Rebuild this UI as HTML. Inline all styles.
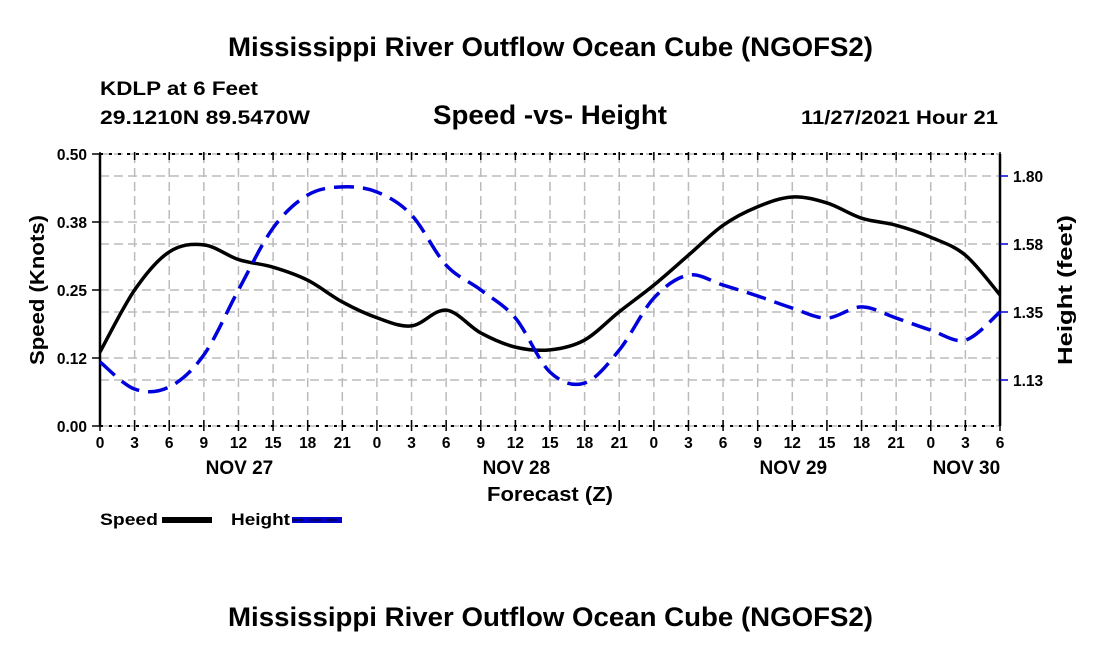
<!DOCTYPE html>
<html><head><meta charset="utf-8"><style>
body{margin:0;background:#fff;}
svg text{font-family:"Liberation Sans",sans-serif;font-weight:bold;fill:#000;}
</style></head><body>
<svg id="c" width="1100" height="650" xmlns="http://www.w3.org/2000/svg">
<text x="228" y="56" font-size="27" textLength="645" lengthAdjust="spacingAndGlyphs">Mississippi River Outflow Ocean Cube (NGOFS2)</text>
<text x="100" y="95" font-size="19" textLength="158" lengthAdjust="spacingAndGlyphs">KDLP at 6 Feet</text>
<text x="100" y="124" font-size="19" textLength="210" lengthAdjust="spacingAndGlyphs">29.1210N  89.5470W</text>
<text x="433" y="124" font-size="27" textLength="234" lengthAdjust="spacingAndGlyphs">Speed -vs- Height</text>
<text x="801" y="124" font-size="19" textLength="197" lengthAdjust="spacingAndGlyphs">11/27/2021 Hour 21</text>
<g id="grid"></g>
<g id="axes"></g>
<g id="series"></g>
<text x="487" y="501" font-size="20" textLength="126" lengthAdjust="spacingAndGlyphs">Forecast (Z)</text>
<text transform="translate(44,290) rotate(-90)" font-size="20" text-anchor="middle" textLength="150" lengthAdjust="spacingAndGlyphs">Speed (Knots)</text>
<text transform="translate(1072,290) rotate(-90)" font-size="20" text-anchor="middle" textLength="150" lengthAdjust="spacingAndGlyphs">Height (feet)</text>
<g><text x="100" y="525" font-size="17" textLength="58" lengthAdjust="spacingAndGlyphs">Speed</text><line x1="162" y1="520" x2="212" y2="520" stroke="#000" stroke-width="6"/></g>
<g><text x="231" y="525" font-size="17" textLength="59" lengthAdjust="spacingAndGlyphs">Height</text><line x1="292" y1="520" x2="342" y2="520" stroke="#0000cc" stroke-width="6"/><line x1="292" y1="520" x2="342" y2="520" stroke="#000" stroke-width="1" stroke-dasharray="12,5"/></g>
<text x="228" y="626" font-size="27" textLength="645" lengthAdjust="spacingAndGlyphs">Mississippi River Outflow Ocean Cube (NGOFS2)</text>
</svg>
<script>
const hours=[0,3,6,9,12,15,18,21,24,27,30,33,36,39,42,45,48,51,54,57,60,63,66,69,72,75,78];
const speed=[0.136,0.25,0.32,0.333,0.306,0.292,0.268,0.228,0.199,0.184,0.213,0.171,0.145,0.14,0.158,0.21,0.259,0.314,0.369,0.403,0.421,0.41,0.382,0.369,0.347,0.314,0.241];
const height=[1.19,1.10,1.107,1.213,1.428,1.633,1.742,1.769,1.752,1.676,1.51,1.428,1.335,1.156,1.12,1.229,1.401,1.477,1.444,1.408,1.368,1.335,1.372,1.335,1.295,1.262,1.355];
const leftTicks=[0,0.125,0.25,0.375,0.5];
const leftLabels=["0.00","0.12","0.25","0.38","0.50"];
const rightTicks=[1.13,1.355,1.58,1.805];
const rightLabels=["1.13","1.35","1.58","1.80"];
const xLabels=["0","3","6","9","12","15","18","21","0","3","6","9","12","15","18","21","0","3","6","9","12","15","18","21","0","3","6"];
const dayLabels=[["NOV 27",12],["NOV 28",36],["NOV 29",60],["NOV 30",75]];
const X0=100,X1=1000,Y0=154,Y1=426;
const xs=h=>X0+(h/78)*(X1-X0);
const yl=v=>Y1-(v/0.5)*(Y1-Y0);
const yr=v=>380-(v-1.13)/0.225*68;
const NS="http://www.w3.org/2000/svg";
function mk(p,t,a){const e=document.createElementNS(NS,t);for(const k in a)e.setAttribute(k,a[k]);document.getElementById(p).appendChild(e);return e;}
const g='#bbb';
hours.forEach(h=>{const l=mk('grid','line',{x1:xs(h),x2:xs(h),y1:Y0,y2:Y1,stroke:g,'stroke-width':1.5,'stroke-dasharray':'9,5'});

});
leftTicks.forEach(v=>{const l=mk('grid','line',{x1:X0,x2:X1,y1:yl(v),y2:yl(v),stroke:g,'stroke-width':1.5,'stroke-dasharray':'9,5'});

});
rightTicks.forEach(v=>{const l=mk('grid','line',{x1:X0,x2:X1,y1:yr(v),y2:yr(v),stroke:g,'stroke-width':1.5,'stroke-dasharray':'9,5'});

});
mk('axes','line',{x1:X0,x2:X0,y1:Y0,y2:Y1,stroke:'#000','stroke-width':2.5});
mk('axes','line',{x1:X1,x2:X1,y1:Y0,y2:Y1,stroke:'#000','stroke-width':2.5});
mk('axes','line',{x1:X0,x2:X1,y1:Y1,y2:Y1,stroke:'#000','stroke-width':2,'stroke-dasharray':'3,6'});
mk('axes','line',{x1:X0,x2:X1,y1:Y0,y2:Y0,stroke:'#000','stroke-width':2,'stroke-dasharray':'3,6'});
hours.forEach((h,i)=>{mk('axes','line',{x1:xs(h),x2:xs(h),y1:Y1+5,y2:Y1-6,stroke:'#000','stroke-width':1.5});
mk('axes','line',{x1:xs(h),x2:xs(h),y1:Y0-2,y2:Y0+6,stroke:'#000','stroke-width':1.5});
const t=mk('axes','text',{x:xs(h),y:448,'font-size':15.5,'text-anchor':'middle'});t.textContent=xLabels[i];

});
dayLabels.forEach(d=>{const t=mk('axes','text',{x:xs(d[1])+1,y:474,'font-size':19,'text-anchor':'middle'});t.textContent=d[0];

});
leftTicks.forEach((v,i)=>{mk('axes','line',{x1:X0-8,x2:X0,y1:yl(v),y2:yl(v),stroke:'#000','stroke-width':1.5});
const t=mk('axes','text',{x:X0-13,y:yl(v)+6,'font-size':15.5,'text-anchor':'end'});t.textContent=leftLabels[i];

});
rightTicks.forEach((v,i)=>{mk('axes','line',{x1:X1,x2:X1+8,y1:yr(v),y2:yr(v),stroke:'#0000cc','stroke-width':1.5});
const t=mk('axes','text',{x:X1+13,y:yr(v)+6,'font-size':15.5});t.textContent=rightLabels[i];

});
function path(pts){let d=`M${pts[0][0]},${pts[0][1]}`;for(let i=0;i<pts.length-1;i++){const p0=pts[i-1]||pts[i],p1=pts[i],p2=pts[i+1],p3=pts[i+2]||p2;
d+=` C${p1[0]+(p2[0]-p0[0])/6},${p1[1]+(p2[1]-p0[1])/6} ${p2[0]-(p3[0]-p1[0])/6},${p2[1]-(p3[1]-p1[1])/6} ${p2[0]},${p2[1]}`;}return d;}
const sp=mk('series','path',{d:path(hours.map((h,i)=>[xs(h),yl(speed[i])])),fill:'none',stroke:'#000','stroke-width':3.5});


const hp=mk('series','path',{d:path(hours.map((h,i)=>[xs(h),yr(height[i])])),fill:'none',stroke:'#0000dd','stroke-width':3.5,'stroke-dasharray':'20,9'});


</script>
</body></html>
